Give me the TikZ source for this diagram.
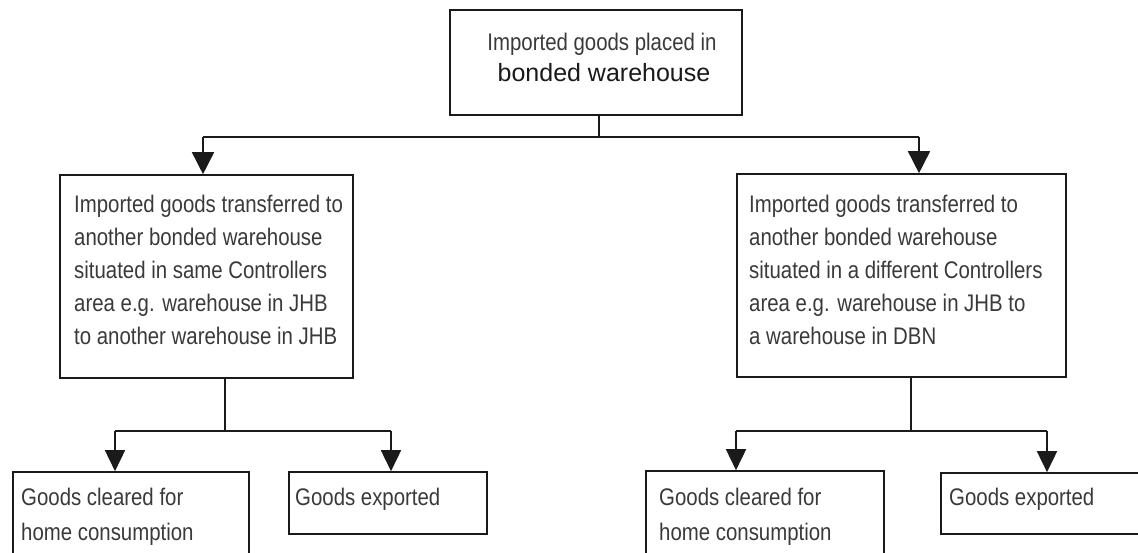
\documentclass[tikz,border=0pt]{standalone}
\usepackage{fontspec}
\setmainfont{Liberation Sans}
\newfontfamily\scanfont[FakeStretch=0.85]{Liberation Sans}
\usetikzlibrary{arrows.meta}
\definecolor{ink}{HTML}{1A1A1A}
\definecolor{txt}{HTML}{3A3A3A}
\begin{document}
\begin{tikzpicture}[x=1pt,y=-1pt,
  box/.style={draw=ink,line width=1.6pt,inner sep=0pt},
  txtnode/.style={inner sep=0pt,anchor=north west,align=left,text=txt,
    font=\scanfont\fontsize{24}{33}\selectfont},
  smalltxt/.style={txtnode,font=\scanfont\fontsize{24}{35}\selectfont},
  link/.style={draw=ink,line width=1.6pt},
  arr/.style={link,-{Triangle[width=22pt,length=22pt]}},
  arrsmall/.style={link,-{Triangle[width=20pt,length=21pt]}}]
\useasboundingbox (0,0) rectangle (1138,553);
\clip (0,0) rectangle (1138,553);
\fill[white] (0,0) rectangle (1138,553);

% boxes
\node[box,minimum width=292pt,minimum height=105pt] (top) at (596,62.5) {};
\node[box,minimum width=293pt,minimum height=203pt] (L) at (206.5,276.5) {};
\node[box,minimum width=329pt,minimum height=203pt] (R) at (901.5,275.5) {};
\node[box,minimum width=236pt,minimum height=128pt] (LL) at (131,536) {};
\node[box,minimum width=198pt,minimum height=62pt] (LR) at (388,503) {};
\node[box,minimum width=238pt,minimum height=129pt] (RL) at (765,535.5) {};
\node[box,minimum width=219pt,minimum height=61pt] (RR) at (1050.5,503.5) {};

% texts
\node[inner sep=0pt,anchor=north,text=txt,font=\scanfont\fontsize{24}{30}\selectfont] (t1) at (602,33) {Imported goods placed in};
\node[inner sep=0pt,anchor=north,text=ink,font=\fontsize{25}{30}\selectfont] (t2) at (604,63) {bonded warehouse};
\node[txtnode] (tL) at (74,195) {Imported goods transferred to\\another bonded warehouse\\situated in same Controllers\\area e.g. warehouse in JHB\\to another warehouse in JHB};
\node[txtnode] (tR) at (749,195) {Imported goods transferred to\\another bonded warehouse\\situated in a different Controllers\\area e.g. warehouse in JHB to\\a warehouse in DBN};
\node[smalltxt] (tLL) at (21,488) {Goods cleared for\\home consumption};
\node[smalltxt] (tLR) at (295,488) {Goods exported};
\node[smalltxt] (tRL) at (659,488) {Goods cleared for\\home consumption};
\node[smalltxt] (tRR) at (949,488) {Goods exported};

% connectors level 1
\coordinate (j0) at (599,137);
\coordinate (jL) at (203,137);
\coordinate (jR) at (919,137);
\draw[link] (top.south -| j0) -- (j0);
\draw[link] (jL) -- (jR);
\draw[arr] (jL) -- (jL |- L.north);
\draw[arr] (jR) -- (jR |- R.north);

% connectors level 2 left
\coordinate (k0) at (225,431);
\coordinate (kL) at (115,431);
\coordinate (kR) at (391,431);
\draw[link] (L.south -| k0) -- (k0);
\draw[link] (kL) -- (kR);
\draw[arrsmall] (kL) -- (kL |- LL.north);
\draw[arrsmall] (kR) -- (kR |- LR.north);

% connectors level 2 right
\coordinate (m0) at (911,431);
\coordinate (mL) at (736,431);
\coordinate (mR) at (1047,431);
\draw[link] (R.south -| m0) -- (m0);
\draw[link] (mL) -- (mR);
\draw[arrsmall] (mL) -- (mL |- RL.north);
\draw[arrsmall] (mR) -- (mR |- RR.north);
\end{tikzpicture}
\end{document}
